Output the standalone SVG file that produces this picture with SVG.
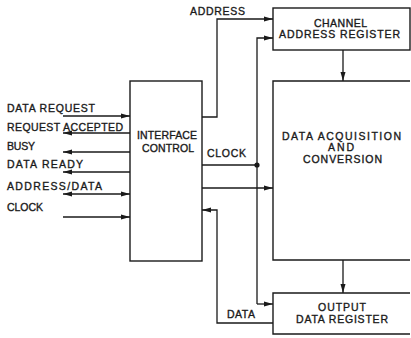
<svg xmlns="http://www.w3.org/2000/svg" width="411" height="338" viewBox="0 0 411 338">
<style>
.b{fill:none;stroke:#1a1a1a;stroke-width:1.4}
.c{fill:none;stroke:#1a1a1a;stroke-width:1.3}
.t{font-family:"Liberation Sans",Arial,sans-serif;font-size:10.5px;fill:#1a1a1a;stroke:#1a1a1a;stroke-width:0.35}
</style>
<defs>
<marker id="ah" markerUnits="userSpaceOnUse" markerWidth="10" markerHeight="6" refX="9" refY="3" orient="auto-start-reverse">
<path d="M0,0.5 L9,3 L0,5.5 z" fill="#1a1a1a"/>
</marker>
</defs>
<rect width="411" height="338" fill="#fff"/>
<g id="interface-control">
<rect class="b" x="130" y="81" width="72" height="180"/>
<text class="t" x="137" y="139" textLength="60" lengthAdjust="spacing">INTERFACE</text>
<text class="t" x="142" y="152" textLength="52" lengthAdjust="spacing">CONTROL</text>
</g>
<g id="channel-address-register">
<rect class="b" x="273" y="8" width="137" height="42"/>
<text class="t" x="314" y="27" textLength="53" lengthAdjust="spacing">CHANNEL</text>
<text class="t" x="279" y="38" textLength="121" lengthAdjust="spacing">ADDRESS REGISTER</text>
</g>
<g id="data-acquisition">
<path class="b" d="M410,81 H273 V260 H410"/>
<text class="t" x="282" y="140" textLength="119" lengthAdjust="spacing">DATA ACQUISITION</text>
<text class="t" x="328" y="151" textLength="26" lengthAdjust="spacing">AND</text>
<text class="t" x="303" y="163" textLength="79" lengthAdjust="spacing">CONVERSION</text>
</g>
<g id="output-data-register">
<path class="b" d="M410,293 H273 V334 H410"/>
<text class="t" x="318" y="311" textLength="48" lengthAdjust="spacing">OUTPUT</text>
<text class="t" x="296" y="323" textLength="92" lengthAdjust="spacing">DATA REGISTER</text>
</g>
<g id="signals">
<text class="t" x="7" y="112" textLength="88" lengthAdjust="spacing">DATA REQUEST</text>
<text class="t" x="7" y="131" textLength="116" lengthAdjust="spacing">REQUEST ACCEPTED</text>
<text class="t" x="7" y="150" textLength="28" lengthAdjust="spacing">BUSY</text>
<text class="t" x="7" y="168" textLength="76" lengthAdjust="spacing">DATA READY</text>
<text class="t" x="7" y="190" textLength="95" lengthAdjust="spacing">ADDRESS/DATA</text>
<text class="t" x="7" y="211" textLength="36" lengthAdjust="spacing">CLOCK</text>
<text class="t" x="190" y="15" textLength="55" lengthAdjust="spacing">ADDRESS</text>
<text class="t" x="207" y="157" textLength="39" lengthAdjust="spacing">CLOCK</text>
<text class="t" x="227" y="318" textLength="28" lengthAdjust="spacing">DATA</text>
</g>
<g id="connectors">
<path class="c" d="M63,116 H130" marker-end="url(#ah)"/>
<path class="c" d="M130,133 H63" marker-end="url(#ah)"/>
<path class="c" d="M130,152 H63" marker-end="url(#ah)"/>
<path class="c" d="M130,172 H63" marker-end="url(#ah)"/>
<path class="c" d="M63,194 H130" marker-start="url(#ah)" marker-end="url(#ah)"/>
<path class="c" d="M63,217 H130" marker-end="url(#ah)"/>
<path class="c" d="M202,117 H217 V19 H273" marker-end="url(#ah)"/>
<path class="c" d="M202,165 H257"/>
<path class="c" d="M257,304 V38 H273" marker-end="url(#ah)"/>
<path class="c" d="M257,304 H273" marker-end="url(#ah)"/>
<circle cx="257" cy="165" r="2.6" fill="#1a1a1a"/>
<path class="c" d="M202,188 H273" marker-end="url(#ah)"/>
<path class="c" d="M273,323 H217 V210 H202" marker-end="url(#ah)"/>
<path class="c" d="M343,50 V81" marker-end="url(#ah)"/>
<path class="c" d="M343,260 V293" marker-end="url(#ah)"/>
</g>
</svg>
